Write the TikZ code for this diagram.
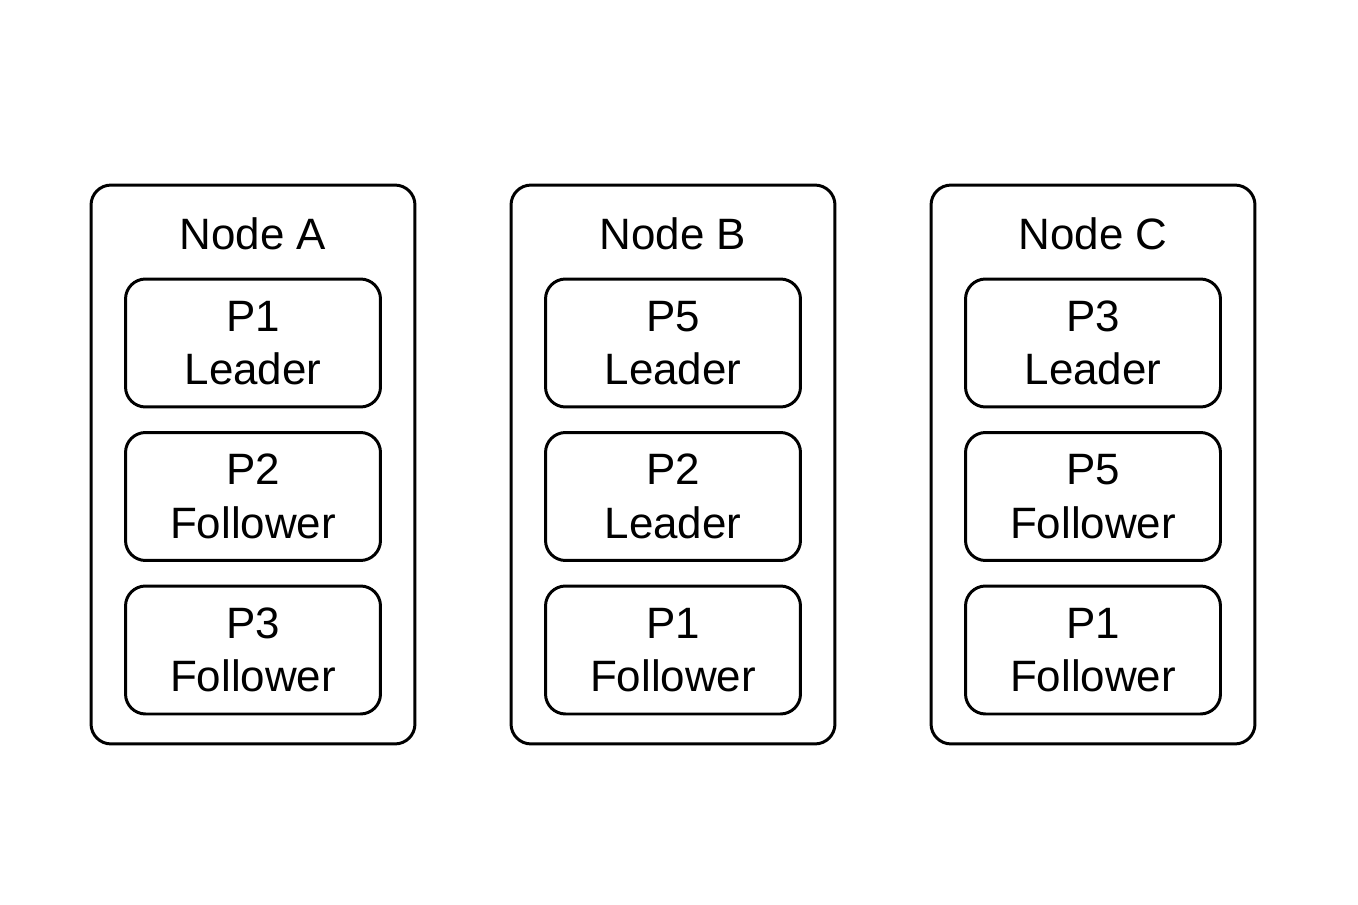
\documentclass[tikz,border=0pt]{standalone}
\usepackage{fontspec}
\setmainfont{Liberation Sans}
\usetikzlibrary{positioning}

\tikzset{
  server/.style={draw, line width=1.7pt, rounded corners=0.4cm, minimum width=6.48cm, minimum height=11.18cm},
  part/.style={draw, line width=1.7pt, rounded corners=0.4cm, minimum width=5.1cm, minimum height=2.56cm,
    align=center, font=\fontsize{25}{30.5}\selectfont},
  title/.style={font=\fontsize{25}{30}\selectfont}
}

\begin{document}
\begin{tikzpicture}[x=0.02cm,y=-0.02cm]
            \useasboundingbox (0,0) rectangle (1358,905);
            \foreach \c/\name/\xx in {a/A/253, b/B/673, c/C/1093}{
                \node[server] (\c) at (\xx,464.5) {};
                \node[title] (\c-title) at (\xx,234) {Node \name};
            }
            % partitions per server
            \foreach \c/\xx/\i/\yy/\txt in {
                a/253/1/343/{P1\\Leader}, a/253/2/496.5/{P2\\Follower}, a/253/3/650/{P3\\Follower},
                b/673/1/343/{P5\\Leader}, b/673/2/496.5/{P2\\Leader}, b/673/3/650/{P1\\Follower},
                c/1093/1/343/{P3\\Leader}, c/1093/2/496.5/{P5\\Follower}, c/1093/3/650/{P1\\Follower}}{
                \node[part, minimum height=2.56cm] (\c-p\i) at (\xx,\yy) {\txt};
            }
          \end{tikzpicture}
\end{document}
